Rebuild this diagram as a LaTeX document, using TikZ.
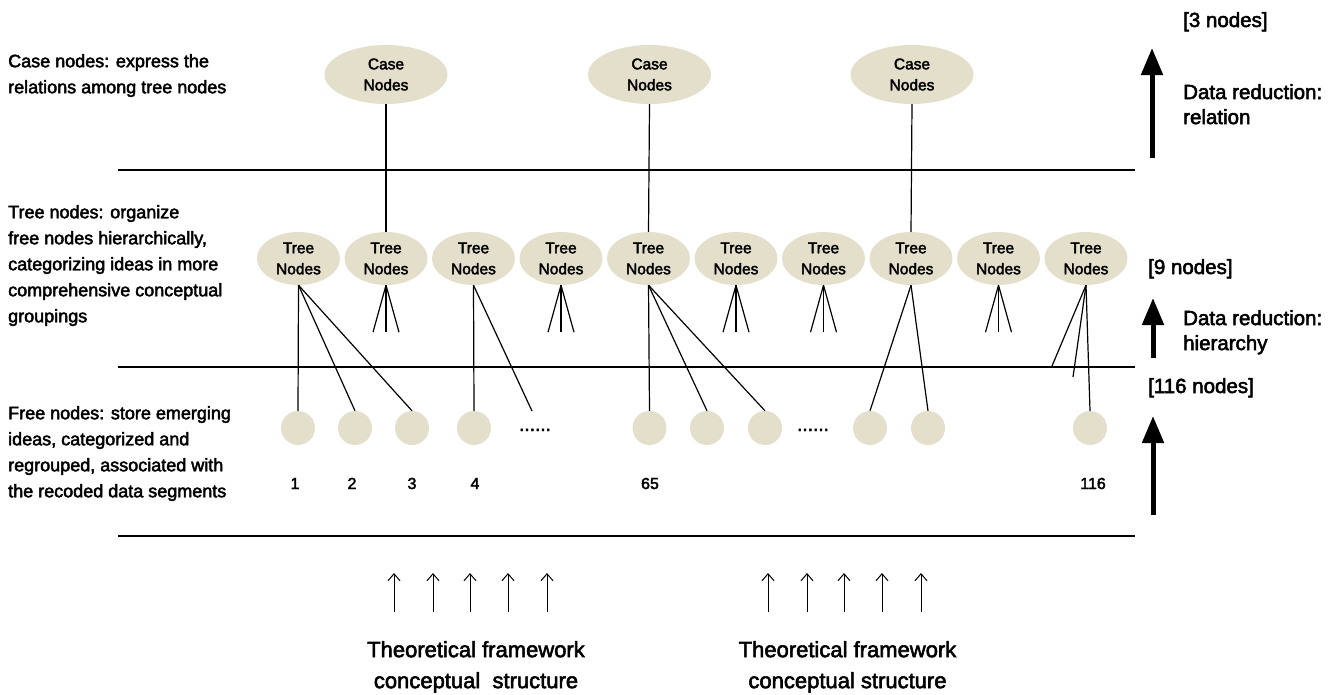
\documentclass[tikz,border=0pt]{standalone}
\usepackage{fontspec}
\setmainfont{Liberation Sans}[FakeBold=2.5]
\usetikzlibrary{shapes.geometric,arrows.meta}
\definecolor{nodefill}{RGB}{227,223,203}
\begin{document}
\begin{tikzpicture}[x=1pt,y=-1pt,
  casenode/.style={ellipse,fill=nodefill,minimum width=123pt,minimum height=59pt,
    inner sep=0pt,align=center,font=\fontsize{15.5}{21}\selectfont},
  treenode/.style={ellipse,fill=nodefill,minimum width=83pt,minimum height=53pt,
    inner sep=0pt,align=center,font=\fontsize{15.5}{21}\selectfont},
  freenode/.style={circle,fill=nodefill,minimum size=34pt,inner sep=0pt},
  numlabel/.style={anchor=base,inner sep=0pt,font=\fontsize{16}{19}\selectfont},
  dotslabel/.style={anchor=base,inner sep=0pt,font=\fontsize{19}{22}\selectfont},
  rule/.style={line width=2.5pt},
  link/.style={line width=1.2pt},
  levelnote/.style={anchor=north west,inner sep=0pt,align=left,font=\fontsize{18}{26}\selectfont},
  sidenote/.style={inner sep=0pt,align=left,font=\fontsize{20.5}{25}\selectfont},
  bignote/.style={anchor=north,inner sep=0pt,align=center,font=\fontsize{22}{31}\selectfont},
  reduction/.style={line width=5pt,-{Triangle[length=27pt,width=21pt]}},
  source/.style={line width=1pt,-{Straight Barb[length=7pt,width=12pt]}}]
\useasboundingbox (0,0) rectangle (1332,694);

% level separators
\coordinate (r1a) at (118,170); \coordinate (r1b) at (1135,170);
\coordinate (r2a) at (118,367); \coordinate (r2b) at (1135,367);
\coordinate (r3a) at (118,536); \coordinate (r3b) at (1135,536);
\draw[rule] (r1a) -- (r1b);
\draw[rule] (r2a) -- (r2b);
\draw[rule] (r3a) -- (r3b);

% level descriptions
\node[levelnote] (caselabel) at (8,54) {Case nodes: express the\\relations among tree nodes};
\node[levelnote] (treelabel) at (8,205) {Tree nodes: organize\\free nodes hierarchically,\\categorizing ideas in more\\comprehensive conceptual\\groupings};
\node[levelnote] (freelabel) at (8,406) {Free nodes: store emerging\\ideas, categorized and\\regrouped, associated with\\the recoded data segments};

% tree nodes
\foreach \i in {1,...,10}{
  \node[treenode] (t\i) at ({298.5+87.5*(\i-1)},258.5) {Tree\\Nodes};
}

% case nodes
\node[casenode] (c1) at (386,74.5) {Case\\Nodes};
\node[casenode] (c2) at (649.5,74.5) {Case\\Nodes};
\node[casenode] (c3) at (912,74.5) {Case\\Nodes};
\draw[link] (c1.south) -- (t2.north);
\draw[link] (c2.south) -- (t5.north);
\draw[link] (c3.south) -- (t8.north);

% free nodes
\node[freenode] (f1) at (298,428) {};
\node[freenode] (f2) at (355,428) {};
\node[freenode] (f3) at (412,428) {};
\node[freenode] (f4) at (474,428) {};
\node[freenode] (f65) at (649.5,428) {};
\node[freenode] (f66) at (707,428) {};
\node[freenode] (f67) at (765,428) {};
\node[freenode] (f68) at (870,428) {};
\node[freenode] (f69) at (928,428) {};
\node[freenode] (f116) at (1090,428) {};
\node[dotslabel] (gap1) at (535,431) {......};
\node[dotslabel] (gap2) at (813,431) {......};

\node[numlabel] (n1) at (295,489) {1};
\node[numlabel] (n2) at (352,489) {2};
\node[numlabel] (n3) at (412,489) {3};
\node[numlabel] (n4) at (475,489) {4};
\node[numlabel] (n65) at (650,489) {65};
\node[numlabel] (n116) at (1093,489) {116};

% tree to free connectors
\draw[link] (t1.south) -- (f1.north);
\draw[link] (t1.south) -- (f2.north);
\draw[link] (t1.south) -- (f3.north);
\coordinate (e4) at (532,411);
\draw[link] (t3.south) -- (f4.north);
\draw[link] (t3.south) -- (e4);
\draw[link] (t5.south) -- (f65.north);
\draw[link] (t5.south) -- (f66.north);
\draw[link] (t5.south) -- (f67.north);
\draw[link] (t8.south) -- (f68.north);
\draw[link] (t8.south) -- (f69.north);
\coordinate (e10a) at (1052,366);
\coordinate (e10b) at (1073,377);
\draw[link] (t10.south) -- (e10a);
\draw[link] (t10.south) -- (e10b);
\draw[link] (t10.south) -- (f116.north);

% short fans of further branches
\foreach \i in {2,4,6,7,9}{
  \draw[link] (t\i.south) -- ++(-13,47);
  \draw[link] (t\i.south) -- ++(0,47);
  \draw[link] (t\i.south) -- ++(13,47);
}

% data reduction arrows and counts
\node[sidenote,anchor=base west] (count3) at (1183,27) {[3 nodes]};
\coordinate (a1s) at (1152,158); \coordinate (a1e) at (1152,48);
\draw[reduction] (a1s) -- (a1e);
\node[sidenote,anchor=north west] (rel) at (1183,84) {Data reduction:\\relation};

\node[sidenote,anchor=base west] (count9) at (1148,274) {[9 nodes]};
\coordinate (a2s) at (1153,358); \coordinate (a2e) at (1153,298);
\draw[reduction] (a2s) -- (a2e);
\node[sidenote,anchor=north west] (hier) at (1183,310) {Data reduction:\\hierarchy};

\node[sidenote,anchor=base west] (count116) at (1148,393) {[116 nodes]};
\coordinate (a3s) at (1153,515); \coordinate (a3e) at (1153,416);
\draw[reduction] (a3s) -- (a3e);

% theoretical framework inputs
\foreach \x [count=\k] in {394,433,470,508,547,768,807,844,882,921}{
  \coordinate (s\k) at (\x,612);
  \coordinate (u\k) at (\x,573);
  \draw[source] (s\k) -- (u\k);
}
\node[bignote] (frame1) at (476,641) {Theoretical framework\\conceptual\ \ structure};
\node[bignote] (frame2) at (847.5,641) {Theoretical framework\\conceptual structure};
\end{tikzpicture}
\end{document}
